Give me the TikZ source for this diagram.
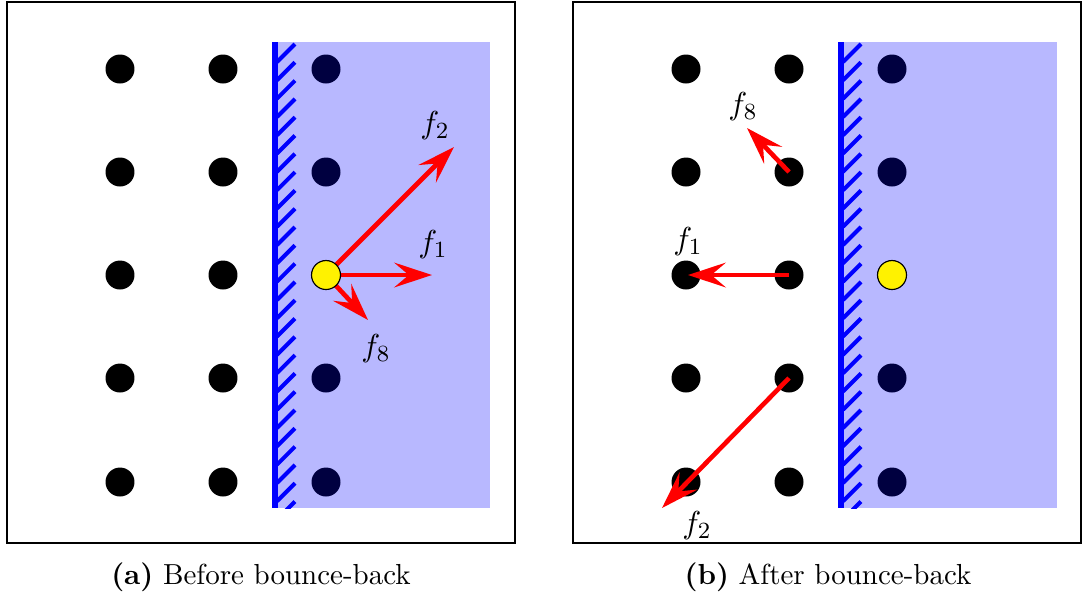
\documentclass[tikz,border=0pt]{standalone}
\usetikzlibrary{arrows.meta}
\definecolor{fluidblue}{RGB}{184,184,255}
\definecolor{darkdot}{RGB}{0,0,64}
\definecolor{wallblue}{RGB}{0,0,255}
\begin{document}
\begin{tikzpicture}[x=0.345pt,y=-0.345pt,
  frame/.style={draw=black,line width=0.85pt},
  dot/.style={circle,fill=black,inner sep=0pt,minimum size=10pt},
  ddot/.style={circle,fill=darkdot,inner sep=0pt,minimum size=10pt},
  ydot/.style={circle,fill=yellow,draw=black,line width=0.4pt,inner sep=0pt,minimum size=10pt},
  vec/.style={draw=red,line width=1.6pt,-{Stealth[length=13pt,width=8.5pt,inset=5pt]}},
  wall/.style={draw=wallblue,line width=1.8pt},
  hatch/.style={draw=wallblue,line width=1.4pt},
  lbl/.style={inner sep=0pt,font=\fontsize{11}{13}\selectfont},
  captext/.style={inner sep=0pt}]
\useasboundingbox (0,0) rectangle (1084,597);
% frames
\draw[frame] (7,2) rectangle (515,543);
\draw[frame] (573,2) rectangle (1081,543);
% ---------- panel (a) ----------
\fill[fluidblue] (275,42) rectangle (490,508);
\begin{scope}
\clip (275,42) rectangle (300,508);
\foreach \k in {0,...,25} \draw[hatch] (277,{62+18.3*\k}) -- (295,{44+18.3*\k});
\end{scope}
\draw[wall] (275,42) -- (275,508);
\foreach \r [count=\i] in {69,172,275,378,482} {
  \node[dot] (a1\i) at (120,\r) {};
  \node[dot] (a2\i) at (223,\r) {};
}
\node[ddot] (a31) at (326,69) {};
\node[ddot] (a32) at (326,172) {};
\node[ddot] (a34) at (326,378) {};
\node[ddot] (a35) at (326,482) {};
\coordinate (aT1) at (432,275);
\coordinate (aT2) at (454,147);
\coordinate (aT8) at (368,320);
\draw[vec] (326,275) -- (aT1);
\draw[vec] (326,275) -- (aT2);
\draw[vec] (326,275) -- (aT8);
\node[ydot] (ay) at (326,275) {};
\node[lbl] (af2) at (435,126) {$f_2$};
\node[lbl] (af1) at (433,245) {$f_1$};
\node[lbl] (af8) at (376,349) {$f_8$};
\node[captext] (capa) at (261,577) {\textbf{(a)} Before bounce-back};
% ---------- panel (b) ----------
\fill[fluidblue] (841,42) rectangle (1057,508);
\begin{scope}
\clip (841,42) rectangle (866,508);
\foreach \k in {0,...,25} \draw[hatch] (843,{62+18.3*\k}) -- (861,{44+18.3*\k});
\end{scope}
\draw[wall] (841,42) -- (841,508);
\foreach \r [count=\i] in {69,172,275,378,482} {
  \node[dot] (b1\i) at (686,\r) {};
  \node[dot] (b2\i) at (789,\r) {};
}
\node[ddot] (b31) at (892,69) {};
\node[ddot] (b32) at (892,172) {};
\node[ddot] (b34) at (892,378) {};
\node[ddot] (b35) at (892,482) {};
\node[ydot] (by) at (892,275) {};
\coordinate (bT1) at (688,275);
\coordinate (bT2) at (662,508);
\coordinate (bT8) at (747,128);
\draw[vec] (b23.center) -- (bT1);
\draw[vec] (b24.center) -- (bT2);
\draw[vec] (b22.center) -- (bT8);
\node[lbl] (bf8) at (743,107) {$f_8$};
\node[lbl] (bf1) at (688,242) {$f_1$};
\node[lbl] (bf2) at (697,526) {$f_2$};
\node[captext] (capb) at (828,577) {\textbf{(b)} After bounce-back};
\end{tikzpicture}
\end{document}
